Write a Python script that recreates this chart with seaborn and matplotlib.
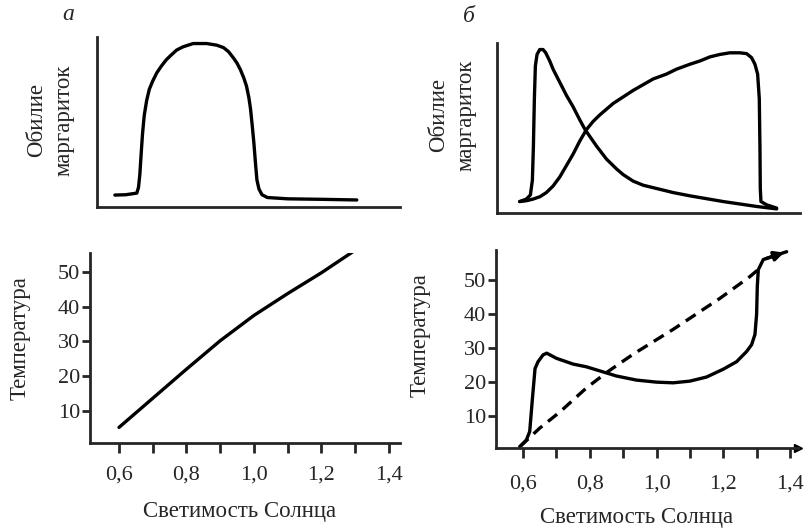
import matplotlib
matplotlib.use("Agg")
import matplotlib.pyplot as plt
import seaborn as sns

sns.set_style("ticks")
plt.rcParams["font.family"] = ["Liberation Serif", "DejaVu Serif"]

# panel a, top: daisy abundance vs solar luminosity
lum_a_top = [0.588, 0.62, 0.653, 0.658, 0.662, 0.666, 0.67, 0.675, 0.682, 0.69,
             0.70, 0.712, 0.725, 0.74, 0.755, 0.771, 0.79, 0.82, 0.86, 0.89,
             0.91, 0.925, 0.94, 0.95, 0.96, 0.97, 0.978, 0.985, 0.99, 0.995,
             1.0, 1.005, 1.009, 1.015, 1.024, 1.04, 1.1, 1.2, 1.305]
abund_a = [0.073, 0.075, 0.085, 0.12, 0.2, 0.33, 0.45, 0.56, 0.65, 0.72,
           0.77, 0.82, 0.86, 0.9, 0.93, 0.96, 0.98, 1.0, 1.0, 0.99,
           0.975, 0.95, 0.91, 0.88, 0.84, 0.79, 0.74, 0.67, 0.6, 0.5,
           0.39, 0.26, 0.165, 0.11, 0.075, 0.058, 0.05, 0.047, 0.043]

# panel a, bottom: temperature
lum_a_bot = [0.6, 0.7, 0.8, 0.9, 1.0, 1.1, 1.2, 1.3]
temp_a = [5.2, 13.6, 22.0, 30.2, 37.5, 43.8, 49.8, 56.3]

# panel b, top: two daisy species
lum_b1 = [0.59, 0.61, 0.622, 0.628, 0.631, 0.634, 0.637, 0.642, 0.65, 0.66,
          0.668, 0.68, 0.69, 0.71, 0.73, 0.75, 0.77, 0.786, 0.82, 0.85, 0.88,
          0.9, 0.93, 0.96, 1.0, 1.05, 1.1, 1.2, 1.3, 1.36]
abund_b1 = [0.07, 0.085, 0.11, 0.2, 0.4, 0.7, 0.9, 0.97, 1.0, 1.0,
            0.98, 0.93, 0.88, 0.80, 0.72, 0.65, 0.57, 0.51, 0.41, 0.33, 0.27,
            0.235, 0.195, 0.17, 0.15, 0.125, 0.105, 0.07, 0.04, 0.025]
lum_b2 = [0.59, 0.61, 0.63, 0.651, 0.67, 0.69, 0.71, 0.73, 0.75, 0.77, 0.79,
          0.81, 0.83, 0.85, 0.87, 0.9, 0.93, 0.96, 0.99, 1.03, 1.06, 1.1,
          1.13, 1.16, 1.19, 1.22, 1.25, 1.27, 1.285, 1.295, 1.303, 1.308,
          1.31, 1.311, 1.313, 1.33, 1.36]
abund_b2 = [0.07, 0.075, 0.085, 0.1, 0.125, 0.165, 0.22, 0.29, 0.36, 0.44, 0.51,
            0.56, 0.60, 0.635, 0.67, 0.71, 0.75, 0.785, 0.82, 0.85, 0.88, 0.91,
            0.93, 0.955, 0.97, 0.98, 0.98, 0.975, 0.95, 0.91, 0.85, 0.7,
            0.4, 0.15, 0.07, 0.05, 0.03]

# panel b, bottom: temperature with daisies (solid) and without (dashed)
lum_b_solid = [0.59, 0.61, 0.62, 0.628, 0.636, 0.645, 0.66, 0.671, 0.7, 0.75,
               0.79, 0.84, 0.88, 0.94, 1.0, 1.05, 1.1, 1.15, 1.2, 1.24, 1.27,
               1.285, 1.295, 1.3, 1.302, 1.305, 1.32, 1.35, 1.39]
temp_b_solid = [1, 3, 5.5, 15, 24, 26, 28, 28.5, 27, 25.3,
                24.5, 23, 21.8, 20.6, 20, 19.8, 20.3, 21.5, 23.8, 26, 29,
                31, 34, 40, 48, 53, 56, 57, 58.3]
lum_b_dash = [0.59, 0.65, 0.71, 0.79, 0.85, 0.93, 1.05, 1.19, 1.28, 1.31]
temp_b_dash = [1, 6.5, 11.2, 18.3, 22.8, 28.2, 35.5, 44.6, 51, 53.5]

xticks = [0.6, 0.8, 1.0, 1.2, 1.4]
xticklabels = ["0,6", "0,8", "1,0", "1,2", "1,4"]
minor_xticks = [0.7, 0.9, 1.1, 1.3]
yticks = [10, 20, 30, 40, 50]

W, H = 805, 531
fig = plt.figure(figsize=(W / 100, H / 100), dpi=100)


def px_axes(x0, y0, x1, y1):
    # pixel box (left, top, right, bottom) -> figure axes
    return fig.add_axes([x0 / W, 1 - y1 / H, (x1 - x0) / W, (y1 - y0) / H])


ax_at = px_axes(97, 37, 400, 207)
ax_ab = px_axes(90, 253, 400, 443)
ax_bt = px_axes(497, 43, 800, 213)
ax_bb = px_axes(496, 250, 798, 448)

lw = 2.4
kw = dict(color="black", linewidth=lw, sort=False, estimator=None, legend=False,
          solid_joinstyle="round", solid_capstyle="round")

sns.lineplot(x=lum_a_top, y=abund_a, ax=ax_at, **kw)
sns.lineplot(x=lum_a_bot, y=temp_a, ax=ax_ab, **kw)
sns.lineplot(x=lum_b1, y=abund_b1, ax=ax_bt, **kw)
sns.lineplot(x=lum_b2, y=abund_b2, ax=ax_bt, **kw)
sns.lineplot(x=lum_b_solid, y=temp_b_solid, ax=ax_bb, **kw)
sns.lineplot(x=lum_b_dash, y=temp_b_dash, ax=ax_bb, **kw)
ax_bb.lines[-1].set_dashes([3.5, 2.2])

# arrowhead at the end of the solid curve
ax_bb.annotate("", xy=(lum_b_solid[-1], temp_b_solid[-1]),
               xytext=(lum_b_solid[-3], temp_b_solid[-3]),
               arrowprops=dict(arrowstyle="-|>", color="black", lw=lw,
                               mutation_scale=14))

ax_at.set_xlim(0.535, 1.433)
ax_at.set_ylim(0, 1.04)
ax_bt.set_xlim(0.522, 1.43)
ax_bt.set_ylim(0, 1.04)
ax_ab.set_xlim(0.514, 1.433)
ax_ab.set_ylim(0.7, 55.5)
ax_bb.set_xlim(0.519, 1.424)
ax_bb.set_ylim(0.66, 58.8)

for ax in (ax_at, ax_ab, ax_bt, ax_bb):
    sns.despine(ax=ax)
    for s in ("left", "bottom"):
        ax.spines[s].set_linewidth(2)
    ax.set_xlabel("")
    ax.set_ylabel("")

for ax in (ax_at, ax_bt):
    ax.set_xticks([])
    ax.set_yticks([])

for ax, xpad in ((ax_ab, 9), (ax_bb, 12)):
    ax.set_xticks(xticks)
    ax.set_xticklabels(xticklabels)
    ax.set_xticks(minor_xticks, minor=True)
    ax.set_yticks(yticks)
    ax.tick_params(axis="x", which="both", direction="out", length=7, width=2,
                   labelsize=16, pad=xpad)
    ax.tick_params(axis="y", direction="out", length=6, width=2,
                   labelsize=16, pad=1)

# arrow on the x-axis of panel b
ax_bb.plot(1, 0, ">", color="black", markersize=6,
           transform=ax_bb.transAxes, clip_on=False)

label_kw = dict(fontsize=16.5, ha="center", va="center")
fig.text(50 / W, 1 - 120 / H, "Обилие\nмаргариток", rotation=90,
         linespacing=1.4, **label_kw)
fig.text(452 / W, 1 - 115 / H, "Обилие\nмаргариток", rotation=90,
         linespacing=1.4, **label_kw)
fig.text(20 / W, 1 - 338 / H, "Температура", rotation=90, **label_kw)
fig.text(420 / W, 1 - 335 / H, "Температура", rotation=90, **label_kw)
fig.text(240 / W, 1 - 512 / H, "Светимость Солнца", **label_kw)
fig.text(637 / W, 1 - 517 / H, "Светимость Солнца", **label_kw)
fig.text(68 / W, 1 - 14 / H, "а", fontsize=17, style="italic",
         ha="center", va="center")
fig.text(469 / W, 1 - 16 / H, "б", fontsize=17, style="italic",
         ha="center", va="center")

fig.savefig("out.png", dpi=100)
